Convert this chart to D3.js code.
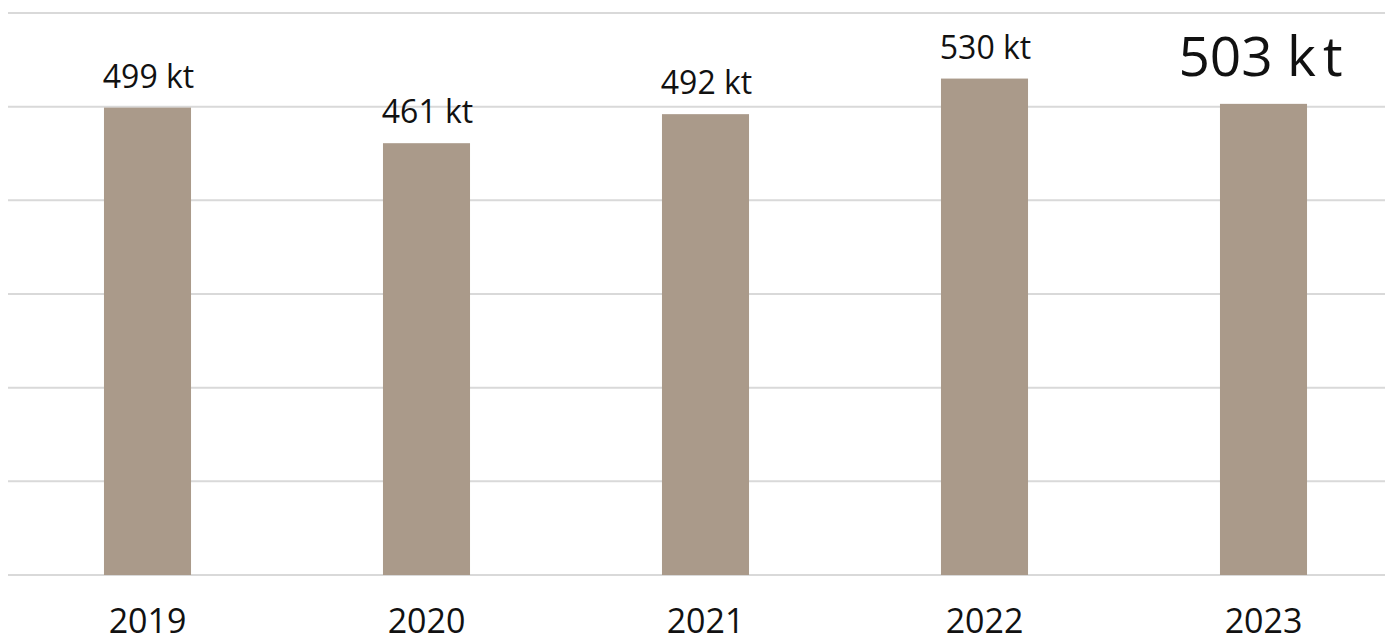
<!DOCTYPE html>
<html lang="en">
<head>
<meta charset="utf-8">
<title>Annual volume</title>
<script src="https://d3js.org/d3.v7.min.js"></script>
<style>
  body { margin: 0; background: #fff; }
  svg { display: block; font-family: "Open Sans", sans-serif; }
</style>
</head>
<body>
<div id="chart"></div>
<script>
// data
var years = ["2019", "2020", "2021", "2022", "2023"];
var values = [499, 461, 492, 530, 503];
var gridTicks = [0, 100, 200, 300, 400, 500, 600];

var width = 1385, height = 635;
var margin = {top: 13, left: 8, bottom: 60};
var baseY = height - margin.bottom; // 575

var svg = d3.select("#chart").append("svg")
  .attr("width", width)
  .attr("height", height);

// plot area runs a bit past the right edge, like the original crop
var x = d3.scaleBand()
  .domain(years)
  .range([margin.left, margin.left + 5 * 279])
  .paddingInner(0.688)
  .paddingOuter(0.344);

var y = d3.scaleLinear()
  .domain([0, 600])
  .range([baseY, margin.top]);

// gridlines
svg.append("g")
  .selectAll("line")
  .data(gridTicks)
  .join("line")
  .attr("x1", margin.left)
  .attr("x2", width)
  .attr("y1", d => y(d))
  .attr("y2", d => y(d))
  .attr("stroke", "#d9d9d9")
  .attr("stroke-width", 2);

var rows = years.map((yr, i) => ({year: yr, value: values[i]}));

// bars
svg.append("g")
  .selectAll("rect")
  .data(rows)
  .join("rect")
  .attr("x", d => x(d.year))
  .attr("y", d => y(d.value))
  .attr("width", x.bandwidth())
  .attr("height", d => y(0) - y(d.value))
  .attr("fill", "#aa9a8a");

// value labels, last one is bigger
var last = years[years.length - 1];
svg.append("g")
  .selectAll("text")
  .data(rows)
  .join("text")
  .attr("x", d => x(d.year) + x.bandwidth() / 2 + (d.year === last ? -3 : 1))
  .attr("y", d => y(d.value) - (d.year === last ? 28 : 20))
  .attr("text-anchor", "middle")
  .attr("font-size", d => d.year === last ? 55 : 32)
  .attr("fill", "#111")
  .each(function(d) {
    var t = d3.select(this);
    if (d.year === last) {
      t.append("tspan").text(d.value + " k");
      t.append("tspan").attr("dx", 7).text("t");
    } else {
      t.text(d.value + " kt");
    }
  });

// x axis labels
var xAxis = d3.axisBottom(x).tickSize(0).tickPadding(0);
var gx = svg.append("g")
  .attr("transform", `translate(0, ${baseY})`)
  .call(xAxis);
gx.select(".domain").remove();
gx.selectAll("text")
  .attr("y", 58)
  .attr("dy", 0)
  .attr("font-size", 34)
  .attr("font-family", "Open Sans, sans-serif")
  .attr("fill", "#111");
</script>
</body>
</html>
